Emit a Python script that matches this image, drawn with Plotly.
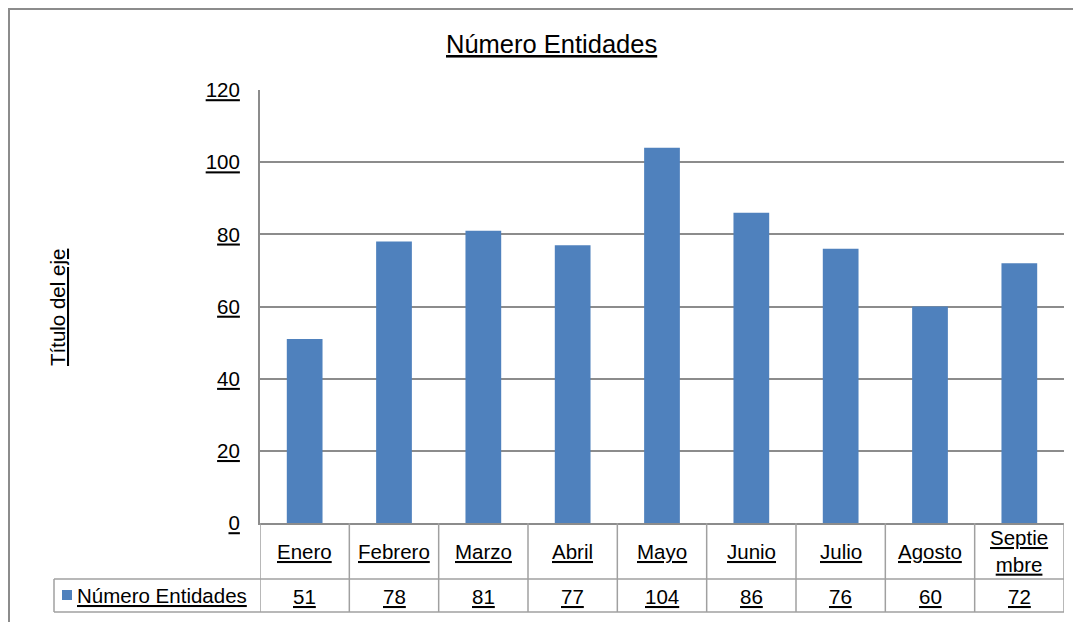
import plotly.graph_objects as go

months = ["Enero", "Febrero", "Marzo", "Abril", "Mayo", "Junio", "Julio", "Agosto", "Septiembre"]
month_labels = ["Enero", "Febrero", "Marzo", "Abril", "Mayo", "Junio", "Julio", "Agosto", "Septie<br>mbre"]
values = [51, 78, 81, 77, 104, 86, 76, 60, 72]
series_name = "Número Entidades"
y_ticks = [0, 20, 40, 60, 80, 100, 120]

OFF = 8  # page body margin
W, H = 1081 - OFF, 622 - OFF
# plot area in screen pixels
PL, PR, PT, PB = 260, 1064, 90, 523
L, T = PL - OFF, PT - OFF
R = W - (PR - OFF)
B = H - (PB - OFF)
PW, PH = PR - PL, PB - PT
BAR = "#4F81BD"
GRID = "#8c8c8c"
TBL = "#a0a0a0"
FONT = "Liberation Sans, Arial, sans-serif"


def px_x(px):
    return (px - PL) / PW


def px_y(py):
    return (PB - py) / PH


fig = go.Figure()
fig.add_trace(go.Bar(x=months, y=values, name=series_name, marker=dict(color=BAR, line=dict(width=0)),
                     showlegend=False))

shapes = []
annotations = []

# outer chart border
shapes.append(dict(type="rect", xref="paper", yref="paper", x0=px_x(9), x1=px_x(1095),
                   y0=px_y(640), y1=px_y(9), line=dict(color=GRID, width=2), layer="below"))

row1_top, row1_bot, row2_bot = 523, 579, 612
# table horizontal lines
shapes.append(dict(type="line", xref="paper", yref="paper", x0=px_x(54), x1=1, y0=px_y(row1_bot), y1=px_y(row1_bot),
                   line=dict(color=TBL, width=1.5)))
shapes.append(dict(type="line", xref="paper", yref="paper", x0=px_x(54), x1=1, y0=px_y(row2_bot), y1=px_y(row2_bot),
                   line=dict(color=TBL, width=1.5)))
# vertical lines
for i in range(len(months) + 1):
    shapes.append(dict(type="line", xref="x", yref="paper", x0=i - 0.5, x1=i - 0.5,
                       y0=px_y(row1_top), y1=px_y(row2_bot), line=dict(color=TBL, width=1.5)))
shapes.append(dict(type="line", xref="paper", yref="paper", x0=px_x(54), x1=px_x(54),
                   y0=px_y(row1_bot), y1=px_y(row2_bot), line=dict(color=TBL, width=1.5)))
# legend key
shapes.append(dict(type="rect", xref="paper", yref="paper", x0=px_x(62), x1=px_x(72),
                   y0=px_y(600), y1=px_y(590), fillcolor=BAR, line=dict(width=0)))

for m, lab, v in zip(months, month_labels, values):
    annotations.append(dict(x=m, xref="x", y=px_y(551), yref="paper",
                            text="<u>" + lab.replace("<br>", "</u><br><u>") + "</u>",
                            showarrow=False, yanchor="middle", xanchor="center",
                            font=dict(size=20.5, color="#000000", family=FONT)))
    annotations.append(dict(x=m, xref="x", y=px_y(596), yref="paper", text=f"<u>{v}</u>",
                            showarrow=False, yanchor="middle", xanchor="center",
                            font=dict(size=20.5, color="#000000", family=FONT)))

annotations.append(dict(x=px_x(75), xref="paper", y=px_y(595), yref="paper", text=f"<u>{series_name}</u>",
                        showarrow=False, xanchor="left", yanchor="middle",
                        font=dict(size=20.5, color="#000000", family=FONT)))
# title
annotations.append(dict(x=px_x(551), xref="paper", y=px_y(44), yref="paper", text=f"<u>{series_name}</u>",
                        showarrow=False, xanchor="center", yanchor="middle",
                        font=dict(size=25.5, color="#000000", family=FONT)))
# y axis title
annotations.append(dict(x=px_x(57), xref="paper", y=px_y(308), yref="paper", text="<u>Título del eje</u>",
                        showarrow=False, xanchor="center", yanchor="middle", textangle=-90,
                        font=dict(size=20.5, color="#000000", family=FONT)))

fig.update_layout(
    width=W, height=H,
    margin=dict(l=L, r=R, t=T, b=B, pad=0),
    paper_bgcolor="white", plot_bgcolor="white",
    bargap=0.6,
    shapes=shapes,
    annotations=annotations,
    font=dict(family=FONT, size=20.5, color="#000000"),
    xaxis=dict(range=[-0.5, len(months) - 0.5], showticklabels=False, showgrid=False, ticks="",
               showline=True, linecolor=GRID, linewidth=2, zeroline=False, fixedrange=True),
    yaxis=dict(range=[0, 120], tickvals=y_ticks, ticktext=[f"<u>{t}</u>" for t in y_ticks],
               showgrid=True, gridcolor=GRID, gridwidth=2, showline=True, linecolor=GRID, linewidth=2,
               zeroline=False, ticks="", ticklabelstandoff=14,
               tickfont=dict(size=20.5, color="#000000", family=FONT)),
)

fig.write_html("out.html")
